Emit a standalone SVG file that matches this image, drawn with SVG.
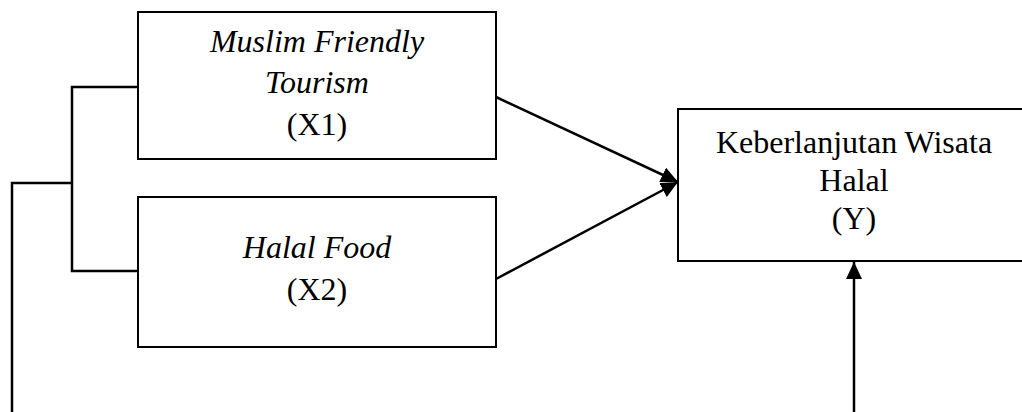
<svg xmlns="http://www.w3.org/2000/svg" width="1022" height="412" viewBox="0 0 1022 412">
<style>
.box{fill:#fff;stroke:#000;stroke-width:2}
.ln{fill:none;stroke:#000;stroke-width:2.5}
.t{font-family:"Liberation Serif","Times New Roman",serif;font-size:32px;fill:#000;text-anchor:middle}
.i{font-style:italic}
</style>
<defs>
<marker id="ah" markerUnits="userSpaceOnUse" markerWidth="18" markerHeight="16" refX="17" refY="8" orient="auto">
<path d="M0,0 L17,8 L0,16 Z" fill="#000"/>
</marker>
</defs>
<rect width="1022" height="412" fill="#fff"/>
<g id="x1">
<rect class="box" x="138" y="12" width="358" height="147"/>
<text class="t i" x="317" y="52">Muslim Friendly</text>
<text class="t i" x="317" y="93">Tourism</text>
<text class="t" x="317" y="135">(X1)</text>
</g>
<g id="x2">
<rect class="box" x="138" y="197" width="358" height="150"/>
<text class="t i" x="317" y="258">Halal Food</text>
<text class="t" x="317" y="300">(X2)</text>
</g>
<g id="y">
<rect class="box" x="678" y="109" width="360" height="152"/>
<text class="t" x="854" y="153">Keberlanjutan Wisata</text>
<text class="t" x="854" y="191">Halal</text>
<text class="t" x="854" y="229">(Y)</text>
</g>
<g id="connectors">
<line class="ln" x1="496" y1="97" x2="678" y2="182" marker-end="url(#ah)"/>
<line class="ln" x1="496" y1="279" x2="678" y2="182" marker-end="url(#ah)"/>
<polyline class="ln" points="137,87 72,87 72,271 137,271"/>
<polyline class="ln" points="72,183 12,183 12,420"/>
<line class="ln" x1="854" y1="420" x2="854" y2="262" marker-end="url(#ah)"/>
</g>
</svg>
